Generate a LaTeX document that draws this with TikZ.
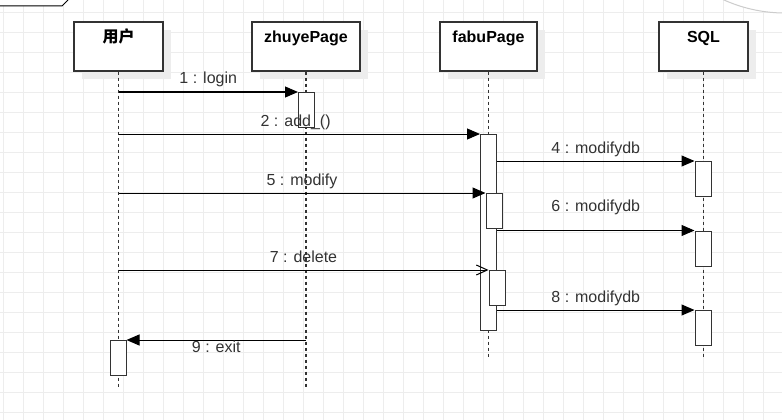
\documentclass[tikz,border=0pt]{standalone}
\usepackage{fontspec}
\setmainfont{Liberation Sans}
\newfontfamily\cjk{Noto Sans CJK SC}
\usetikzlibrary{arrows.meta,shadows}
\definecolor{gridc}{HTML}{EDEDED}
\definecolor{txtc}{HTML}{333333}
\definecolor{edgec}{HTML}{333333}
\tikzstyle{lifebox} = [rectangle, draw=edgec, line width=1.2pt, fill=white, inner xsep=0pt, inner ysep=9pt, text height=12pt, text depth=19pt, font=\fontsize{16}{19}\selectfont\bfseries, drop shadow={shadow xshift=8pt, shadow yshift=-8pt, fill=black!7, opacity=1}]
\tikzstyle{act} = [rectangle, draw=edgec, line width=1pt, fill=white, minimum width=16pt, inner sep=0pt, anchor=north]
\tikzstyle{life} = [draw=edgec, line width=1.3pt, dash pattern=on 3pt off 3pt]
\tikzstyle{msg} = [draw=black, line width=1pt, -{Triangle[length=13pt,width=11pt]}]
\tikzstyle{msgopen} = [draw=black, line width=1pt, -{Straight Barb[length=11pt,width=10pt]}]
\tikzstyle{lbl} = [font=\fontsize{16}{19}\selectfont, text=txtc, inner sep=0pt, text height=12pt, text depth=4pt]

\begin{document}
\begin{tikzpicture}[x=1pt, y=-1pt]
\useasboundingbox[fill=white] (0,0) rectangle (782,420);
\foreach \gx in {3,23,...,783} \draw[gridc, line width=0.7pt] (\gx,0) -- (\gx,420);
\foreach \gy in {12,32,...,412} \draw[gridc, line width=0.7pt] (0,\gy) -- (782,\gy);
\fill[white] (0,0) -- (0,6) -- (62,6) -- (68,0) -- cycle;
\draw[black, line width=1pt] (0,6) -- (62,6) -- (68,0);
\draw[black!20, fill=white, line width=1pt] (785,-136) circle (149);

\node (u) [lifebox, minimum width=89pt] at (118.5,46.5) {\cjk\bfseries 用户};
\node (z) [lifebox, minimum width=108pt] at (306,46.5) {zhuyePage};
\node (f) [lifebox, minimum width=97pt] at (488.5,46.5) {fabuPage};
\node (s) [lifebox, minimum width=89pt] at (703.5,46.5) {SQL};

\coordinate (uend) at (118.5,388);
\coordinate (zend) at (306,388);
\coordinate (fend) at (488.5,358);
\coordinate (send) at (703.5,358);
\draw[life] (u.south) -- (uend);
\draw[life] (z.south) -- (zend);
\draw[life] (f.south) -- (fend);
\draw[life] (s.south) -- (send);

\node (za) [act, minimum height=35pt] at (306.5,92) {};
\node (fa) [act, minimum height=196pt] at (488.5,134) {};
\node (fb) [act, minimum height=35pt] at (494,193) {};
\node (fc) [act, minimum height=35pt] at (497,270) {};
\node (sa) [act, minimum height=35pt] at (703,161) {};
\node (sb) [act, minimum height=35pt] at (703,230.5) {};
\node (sc) [act, minimum height=35pt] at (703,310) {};
\node (ua) [act, minimum height=35pt] at (118,340) {};

\draw[msg] (u.south |- za.north) -- (za.north west) node[lbl, midway, above=3.5pt] {1 : login};
\draw[msg] (u.south |- fa.north) -- (fa.north west) node[lbl, pos=0.49, above=3.5pt] {2 : add\_()};
\draw[msg] (fa.east |- sa.north) -- (sa.north west) node[lbl, midway, above=3.5pt] {4 : modifydb};
\draw[msg] (u.south |- fb.north) -- (fb.north west) node[lbl, midway, above=3.5pt] {5 : modify};
\draw[msg] (fa.east |- sb.north) -- (sb.north west) node[lbl, midway, above=14.5pt] {6 : modifydb};
\draw[msgopen] (u.south |- fc.north) -- (fc.north west) node[lbl, midway, above=3.5pt] {7 : delete};
\draw[msg] (fa.east |- sc.north) -- (sc.north west) node[lbl, midway, above=3.5pt] {8 : modifydb};
\draw[msg] (z.south |- ua.north) -- (ua.north east) node[lbl, midway, below=0pt] {9 : exit};
\end{tikzpicture}
\end{document}
